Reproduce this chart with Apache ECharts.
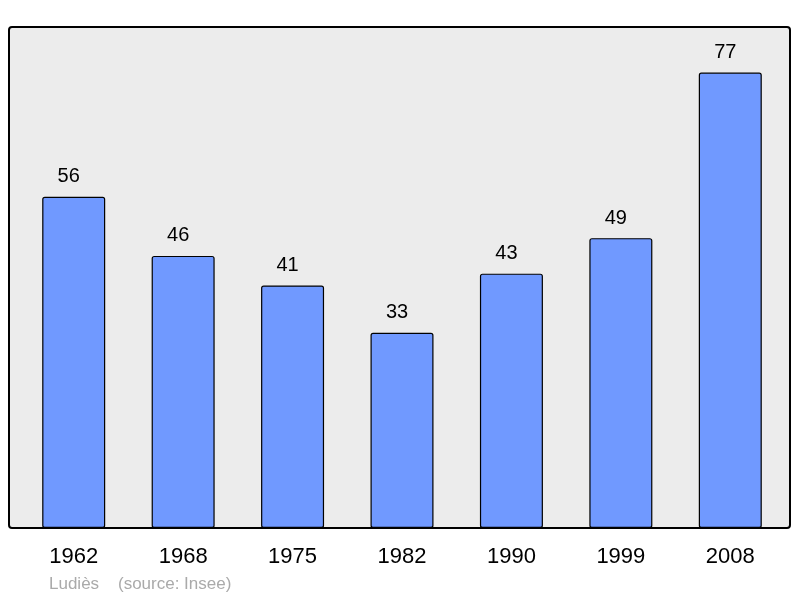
<!DOCTYPE html>
<html>
<head>
<meta charset="utf-8">
<script src="https://cdn.jsdelivr.net/npm/echarts@6/dist/echarts.min.js"></script>
<style>
  html, body { margin: 0; padding: 0; background: #fff; }
  #main { width: 800px; height: 598px; }
</style>
</head>
<body>
<div id="main"></div>
<script>
// population per census year
const years = ['1962', '1968', '1975', '1982', '1990', '1999', '2008']
const population = [56, 46, 41, 33, 43, 49, 77]
const credit = 'Ludiès    (source: Insee)'

const chart = echarts.init(document.getElementById('main'))
chart.setOption({
  animation: false,
  textStyle: { fontFamily: 'Liberation Sans, Arial, sans-serif' },
  graphic: [
    {
      // gray panel behind the bars
      type: 'rect',
      z: -10,
      shape: { x: 9, y: 27, width: 781, height: 501, r: 3 },
      style: { fill: '#ececec', stroke: '#000', lineWidth: 2 }
    },
    {
      type: 'text',
      left: 49,
      top: 576,
      style: { text: credit, fill: '#aaaaaa', font: '17px Liberation Sans, Arial, sans-serif' }
    }
  ],
  grid: { left: 19, right: 15, top: 27, bottom: 70 },
  xAxis: {
    type: 'category',
    data: years,
    axisLine: { show: false },
    axisTick: { show: false },
    axisLabel: { color: '#000', fontSize: 22, margin: 18 }
  },
  yAxis: {
    type: 'value',
    min: 0,
    max: 84.7,
    show: false,
    splitLine: { show: false }
  },
  series: [
    {
      type: 'bar',
      data: population,
      barWidth: 63,
      itemStyle: { color: '#7099ff', borderColor: '#000', borderWidth: 1.2, borderRadius: 2 },
      label: { show: true, position: 'top', distance: 10, offset: [-5, 0], color: '#000', fontSize: 20 }
    }
  ]
})
</script>
</body>
</html>
